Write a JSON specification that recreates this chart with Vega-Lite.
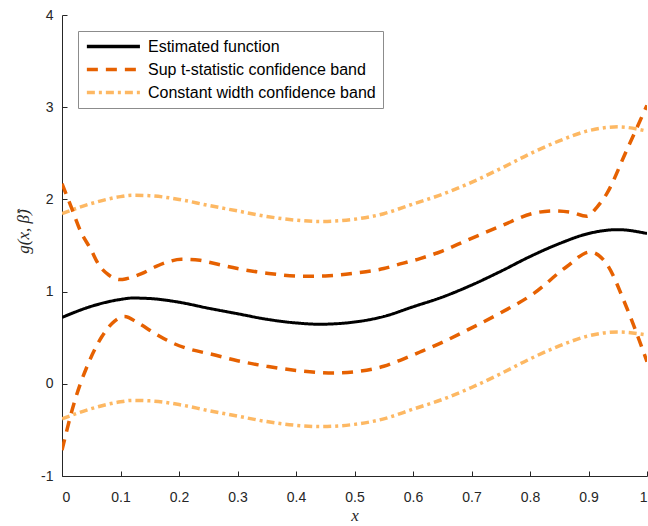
{
  "$schema": "https://vega.github.io/schema/vega-lite/v6.json",
  "width": 585,
  "height": 461,
  "autosize": {"type": "none"},
  "padding": {"left": 62, "top": 15, "right": 1, "bottom": 50},
  "background": "white",
  "config": {
    "view": {"stroke": null},
    "font": "Liberation Sans"
  },
  "datasets": {
    "est": [
      {"x": 0, "y": 0.72}, {"x": 0.05, "y": 0.84}, {"x": 0.1, "y": 0.915}, {"x": 0.12, "y": 0.93},
      {"x": 0.15, "y": 0.925}, {"x": 0.2, "y": 0.885}, {"x": 0.25, "y": 0.82}, {"x": 0.3, "y": 0.76},
      {"x": 0.35, "y": 0.7}, {"x": 0.4, "y": 0.66}, {"x": 0.44, "y": 0.646}, {"x": 0.5, "y": 0.67},
      {"x": 0.55, "y": 0.73}, {"x": 0.6, "y": 0.835}, {"x": 0.65, "y": 0.94}, {"x": 0.7, "y": 1.07},
      {"x": 0.75, "y": 1.22}, {"x": 0.8, "y": 1.38}, {"x": 0.85, "y": 1.52}, {"x": 0.9, "y": 1.63},
      {"x": 0.95, "y": 1.672}, {"x": 1.0, "y": 1.63}
    ],
    "cw_up": [
      {"x": 0, "y": 1.845}, {"x": 0.05, "y": 1.955}, {"x": 0.1, "y": 2.03}, {"x": 0.12, "y": 2.045},
      {"x": 0.15, "y": 2.04}, {"x": 0.2, "y": 2.0}, {"x": 0.25, "y": 1.935}, {"x": 0.3, "y": 1.875},
      {"x": 0.35, "y": 1.815}, {"x": 0.4, "y": 1.775}, {"x": 0.44, "y": 1.761}, {"x": 0.5, "y": 1.785},
      {"x": 0.55, "y": 1.845}, {"x": 0.6, "y": 1.95}, {"x": 0.65, "y": 2.055}, {"x": 0.7, "y": 2.185},
      {"x": 0.75, "y": 2.335}, {"x": 0.8, "y": 2.495}, {"x": 0.85, "y": 2.635}, {"x": 0.9, "y": 2.745},
      {"x": 0.95, "y": 2.787}, {"x": 1.0, "y": 2.74}
    ],
    "cw_lo": [
      {"x": 0, "y": -0.38}, {"x": 0.05, "y": -0.27}, {"x": 0.1, "y": -0.195}, {"x": 0.12, "y": -0.18},
      {"x": 0.15, "y": -0.185}, {"x": 0.2, "y": -0.225}, {"x": 0.25, "y": -0.29}, {"x": 0.3, "y": -0.35},
      {"x": 0.35, "y": -0.41}, {"x": 0.4, "y": -0.45}, {"x": 0.44, "y": -0.464}, {"x": 0.5, "y": -0.44},
      {"x": 0.55, "y": -0.38}, {"x": 0.6, "y": -0.275}, {"x": 0.65, "y": -0.17}, {"x": 0.7, "y": -0.04},
      {"x": 0.75, "y": 0.11}, {"x": 0.8, "y": 0.27}, {"x": 0.85, "y": 0.41}, {"x": 0.9, "y": 0.52},
      {"x": 0.95, "y": 0.562}, {"x": 1.0, "y": 0.53}
    ],
    "sup_up": [
      {"x": 0, "y": 2.17}, {"x": 0.015, "y": 1.93}, {"x": 0.031, "y": 1.665}, {"x": 0.05, "y": 1.45},
      {"x": 0.062, "y": 1.3}, {"x": 0.08, "y": 1.18}, {"x": 0.1, "y": 1.13}, {"x": 0.11, "y": 1.14},
      {"x": 0.136, "y": 1.195}, {"x": 0.16, "y": 1.27}, {"x": 0.18, "y": 1.32}, {"x": 0.204, "y": 1.35},
      {"x": 0.236, "y": 1.34}, {"x": 0.25, "y": 1.32}, {"x": 0.3, "y": 1.25}, {"x": 0.35, "y": 1.2},
      {"x": 0.412, "y": 1.166}, {"x": 0.45, "y": 1.17}, {"x": 0.5, "y": 1.2}, {"x": 0.55, "y": 1.25},
      {"x": 0.578, "y": 1.3}, {"x": 0.612, "y": 1.358}, {"x": 0.65, "y": 1.44}, {"x": 0.692, "y": 1.556},
      {"x": 0.75, "y": 1.71}, {"x": 0.806, "y": 1.85}, {"x": 0.84, "y": 1.875}, {"x": 0.87, "y": 1.86},
      {"x": 0.897, "y": 1.817}, {"x": 0.915, "y": 1.92}, {"x": 0.931, "y": 2.06}, {"x": 0.965, "y": 2.53},
      {"x": 1.0, "y": 3.02}
    ],
    "sup_lo": [
      {"x": 0, "y": -0.72}, {"x": 0.022, "y": -0.18}, {"x": 0.045, "y": 0.22}, {"x": 0.068, "y": 0.51},
      {"x": 0.09, "y": 0.68}, {"x": 0.107, "y": 0.73}, {"x": 0.13, "y": 0.66}, {"x": 0.159, "y": 0.545},
      {"x": 0.19, "y": 0.44}, {"x": 0.216, "y": 0.38}, {"x": 0.256, "y": 0.32}, {"x": 0.3, "y": 0.25},
      {"x": 0.35, "y": 0.19}, {"x": 0.4, "y": 0.145}, {"x": 0.464, "y": 0.117}, {"x": 0.5, "y": 0.13},
      {"x": 0.55, "y": 0.19}, {"x": 0.578, "y": 0.255}, {"x": 0.612, "y": 0.345}, {"x": 0.65, "y": 0.45},
      {"x": 0.692, "y": 0.58}, {"x": 0.75, "y": 0.77}, {"x": 0.806, "y": 0.978}, {"x": 0.862, "y": 1.267},
      {"x": 0.903, "y": 1.43}, {"x": 0.931, "y": 1.3}, {"x": 0.965, "y": 0.83}, {"x": 1.0, "y": 0.24}
    ]
  },
  "layer": [
    {
      "data": {"name": "cw_up"},
      "transform": [{"calculate": "'Constant width confidence band'", "as": "series"}, {"calculate": "'cwu'", "as": "line"}],
      "mark": {"type": "line", "interpolate": "monotone", "strokeWidth": 3.5, "clip": true},
      "encoding": {
        "x": {"field": "x", "type": "quantitative"},
        "y": {"field": "y", "type": "quantitative"},
        "color": {"field": "series", "type": "nominal"},
        "strokeDash": {"field": "series", "type": "nominal"},
        "detail": {"field": "line"}
      }
    },
    {
      "data": {"name": "cw_lo"},
      "transform": [{"calculate": "'Constant width confidence band'", "as": "series"}, {"calculate": "'cwl'", "as": "line"}],
      "mark": {"type": "line", "interpolate": "monotone", "strokeWidth": 3.5, "clip": true},
      "encoding": {
        "x": {"field": "x", "type": "quantitative"},
        "y": {"field": "y", "type": "quantitative"},
        "color": {"field": "series", "type": "nominal"},
        "strokeDash": {"field": "series", "type": "nominal"},
        "detail": {"field": "line"}
      }
    },
    {
      "data": {"name": "sup_up"},
      "transform": [{"calculate": "'Sup t-statistic confidence band'", "as": "series"}, {"calculate": "'su'", "as": "line"}],
      "mark": {"type": "line", "interpolate": "monotone", "strokeWidth": 3.5, "clip": true},
      "encoding": {
        "x": {"field": "x", "type": "quantitative"},
        "y": {"field": "y", "type": "quantitative"},
        "color": {"field": "series", "type": "nominal"},
        "strokeDash": {"field": "series", "type": "nominal"},
        "detail": {"field": "line"}
      }
    },
    {
      "data": {"name": "sup_lo"},
      "transform": [{"calculate": "'Sup t-statistic confidence band'", "as": "series"}, {"calculate": "'sl'", "as": "line"}],
      "mark": {"type": "line", "interpolate": "monotone", "strokeWidth": 3.5, "clip": true},
      "encoding": {
        "x": {"field": "x", "type": "quantitative"},
        "y": {"field": "y", "type": "quantitative"},
        "color": {"field": "series", "type": "nominal"},
        "strokeDash": {"field": "series", "type": "nominal"},
        "detail": {"field": "line"}
      }
    },
    {
      "data": {"name": "est"},
      "transform": [{"calculate": "'Estimated function'", "as": "series"}, {"calculate": "'e'", "as": "line"}],
      "mark": {"type": "line", "interpolate": "monotone", "strokeWidth": 3, "clip": true},
      "encoding": {
        "x": {
          "field": "x", "type": "quantitative",
          "scale": {"domain": [0, 1], "nice": false, "zero": false},
          "axis": {
            "values": [0, 0.1, 0.2, 0.3, 0.4, 0.5, 0.6, 0.7, 0.8, 0.9, 1],
            "format": ".1~f", "grid": false, "tickSize": -5, "labelPadding": 19,
            "domainColor": "#262626", "tickColor": "#262626", "labelColor": "#262626",
            "labelFontSize": 14, "labelFont": "Liberation Sans",
            "title": "x", "titleFont": "Liberation Serif", "titleFontStyle": "italic", "titleFontWeight": "normal",
            "titleFontSize": 17, "titleColor": "#262626", "titlePadding": 3
          }
        },
        "y": {
          "field": "y", "type": "quantitative",
          "scale": {"domain": [-1, 4], "nice": false, "zero": false},
          "axis": {
            "values": [-1, 0, 1, 2, 3, 4],
            "labelExpr": "toString(datum.value)", "grid": false, "tickSize": -5, "labelPadding": 14,
            "domainColor": "#262626", "tickColor": "#262626", "labelColor": "#262626",
            "labelFontSize": 14, "labelFont": "Liberation Sans",
            "title": "g(x, β̂)", "titleFont": "Liberation Serif", "titleFontStyle": "italic", "titleFontWeight": "normal",
            "titleFontSize": 17, "titleColor": "#262626", "titlePadding": 8, "titleY": 216
          }
        },
        "color": {
          "field": "series", "type": "nominal",
          "scale": {
            "domain": ["Estimated function", "Sup t-statistic confidence band", "Constant width confidence band"],
            "range": ["#000000", "#E66101", "#FDB863"]
          },
          "legend": {
            "title": null, "orient": "top-left", "offset": 16,
            "symbolType": "M-1,0H7", "symbolSize": 176, "symbolStrokeWidth": 3.5,
            "labelFontSize": 16, "labelFont": "Liberation Sans", "labelColor": "#000000", "labelOffset": 46,
            "rowPadding": 6, "padding": 7, "fillColor": "white", "strokeColor": "#8c8c8c",
            "labelLimit": 400
          }
        },
        "strokeDash": {
          "field": "series", "type": "nominal",
          "scale": {
            "domain": ["Estimated function", "Sup t-statistic confidence band", "Constant width confidence band"],
            "range": [[1, 0], [11, 8], [8, 4, 3, 4]]
          },
          "legend": null
        },
        "detail": {"field": "line"}
      }
    }
  ]
}
